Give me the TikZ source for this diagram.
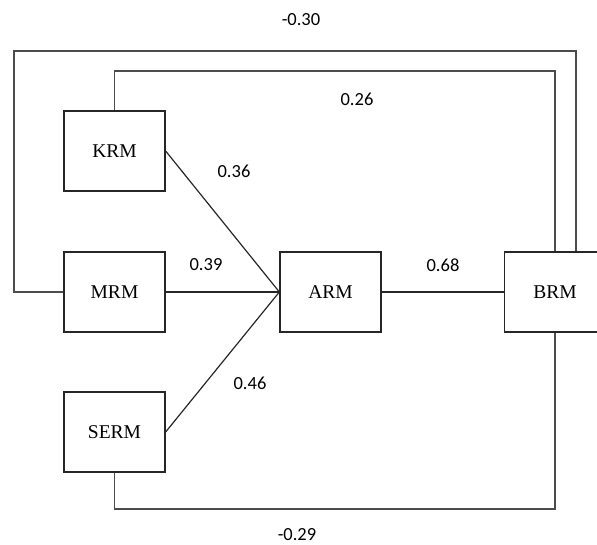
\documentclass[tikz,border=0pt]{standalone}
\usepackage{fontspec}
\setmainfont{Liberation Serif}
\newfontfamily\numfont{Carlito}
\begin{document}
\begin{tikzpicture}[x=1pt,y=-1pt,
  varbox/.style={draw=black!85,line width=1.3pt,rectangle,minimum width=101pt,minimum height=80pt,inner sep=0pt,font=\fontsize{19.5}{22}\selectfont},
  conn/.style={draw=black!85,line width=1.2pt},
  loopline/.style={draw=black!70,line width=1.6pt},
  coef/.style={font=\numfont\fontsize{18.5}{21}\selectfont,inner sep=1pt}]
\useasboundingbox (0,0) rectangle (597,545);
\node[varbox] (KRM) at (114.5,151) {KRM};
\node[varbox] (MRM) at (114.5,292) {MRM};
\node[varbox] (SERM) at (114.5,432) {SERM};
\node[varbox] (ARM) at (330.5,292) {ARM};
\node[varbox] (BRM) at (555,292) {BRM};
% paths
\draw[conn] (KRM.east) -- (ARM.west);
\draw[conn] (MRM.east) -- (ARM.west);
\draw[conn] (SERM.east) -- (ARM.west);
\draw[conn] (ARM.east) -- (BRM.west);
\coordinate (outerR) at ([xshift=21pt]BRM.north);
\draw[loopline] (MRM.west) -| (14,51) -| (outerR);
\draw[loopline] (KRM.north) |- (555,71) -- (BRM.north);
\draw[loopline] (SERM.south) |- (555,509) -- (BRM.south);
% coefficients
\node[coef] (c1) at (301,20) {-0.30};
\node[coef] (c2) at (357,99) {0.26};
\node[coef] (c3) at (234,171) {0.36};
\node[coef] (c4) at (206,265) {0.39};
\node[coef] (c5) at (443,265) {0.68};
\node[coef] (c6) at (250,383) {0.46};
\node[coef] (c7) at (297,535) {-0.29};
\end{tikzpicture}
\end{document}
